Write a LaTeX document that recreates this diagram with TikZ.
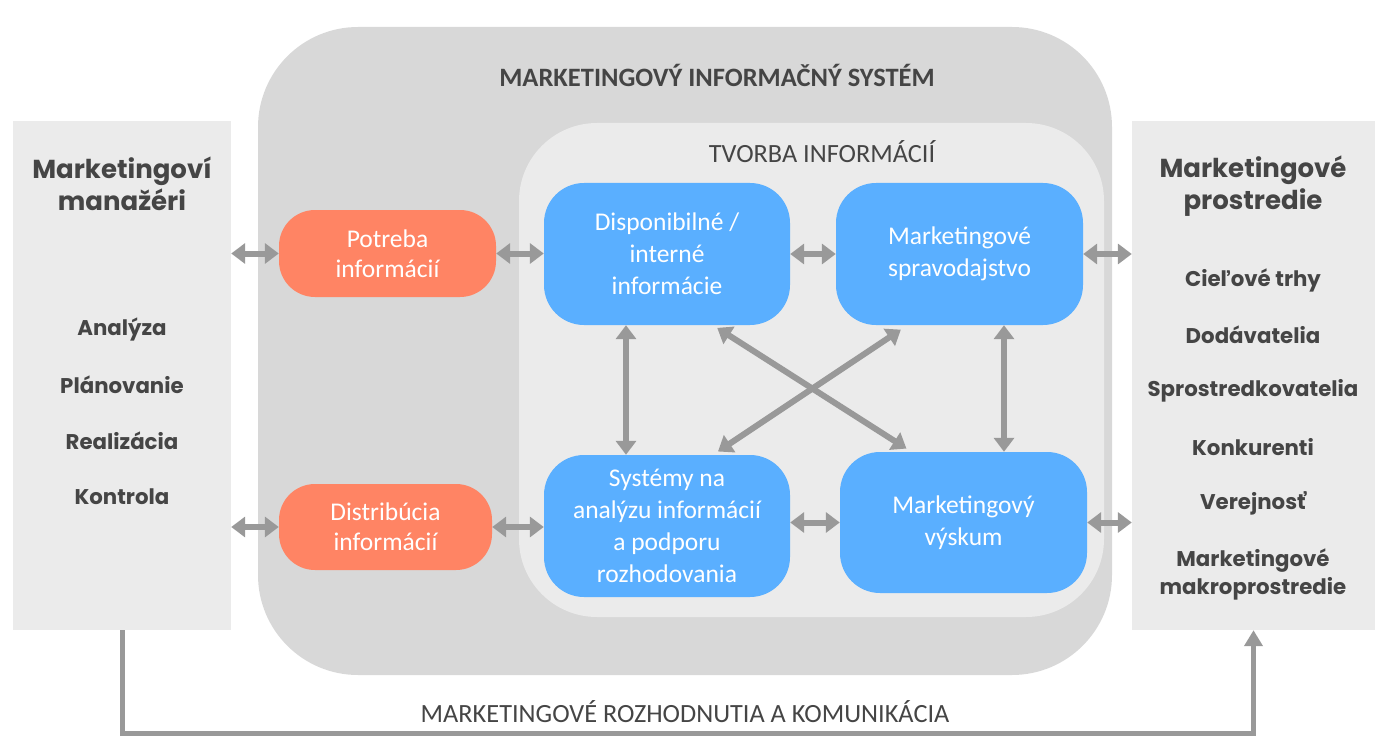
\documentclass[tikz,border=0pt]{standalone}
\usepackage{fontspec}
\setmainfont{Carlito}
\newfontfamily\pop{Poppins}
\usetikzlibrary{arrows.meta,calc}
\definecolor{sidegray}{HTML}{EBEBEB}
\definecolor{misgray}{HTML}{D8D8D8}
\definecolor{innergray}{HTML}{EBEBEB}
\definecolor{orangebox}{HTML}{FF8464}
\definecolor{bluebox}{HTML}{5AAFFF}
\definecolor{arrgray}{HTML}{999999}
\definecolor{txtdark}{HTML}{454545}
\begin{document}
\begin{tikzpicture}[x=1pt,y=-1pt,
  sidebox/.style={fill=sidegray,draw=none,minimum width=#1,minimum height=509pt,inner sep=0pt},
  orbox/.style={fill=orangebox,draw=none,rounded corners=36pt,inner sep=0pt,text=white,align=center,
     font=\fontsize{25.5}{30}\selectfont},
  blbox/.style={fill=bluebox,draw=none,rounded corners=40pt,inner sep=0pt,text=white,align=center,
     minimum width=246pt,minimum height=142pt,font=\fontsize{25.5}{32}\selectfont},
  darr/.style={draw=arrgray,line width=6pt,{Triangle[length=14pt,width=20pt]}-{Triangle[length=14pt,width=20pt]}},
  bigtitle/.style={text=txtdark,align=center,font=\pop\bfseries\fontsize{26}{32}\selectfont},
  listitem/.style={text=txtdark,font=\pop\bfseries\fontsize{21.3}{28}\selectfont,align=center},
]
\useasboundingbox (0,0) rectangle (1390,749);
% side boxes
\node[sidebox=218pt] (lbox) at (122,375.5) {};
\node[sidebox=243pt] (rbox) at (1253.5,375.5) {};
% MIS
\node[fill=misgray,draw=none,rounded corners=100pt,minimum width=854pt,minimum height=648pt,inner sep=0pt] (mis) at (685,351) {};
\node[fill=innergray,draw=none,rounded corners=78pt,minimum width=585pt,minimum height=494pt,inner sep=0pt] (inner) at (811.5,370) {};
\node[text=txtdark,font=\bfseries\fontsize{26.5}{30}\selectfont] (mistitle) at (717,75) {MARKETINGOVÝ INFORMAČNÝ SYSTÉM};
\node[text=txtdark,font=\fontsize{26.3}{30}\selectfont] (tvtitle) at (822,152) {TVORBA INFORMÁCIÍ};
% orange
\node[orbox,minimum width=217pt,minimum height=87pt] (potreba) at (387.5,253.5) {Potreba\\informácií};
\node[orbox,minimum width=213pt,minimum height=86pt] (distrib) at (385.5,527) {Distribúcia\\informácií};
% blue
\node[blbox] (disp) at (667,254) {Disponibilné /\\interné\\informácie};
\node[blbox,minimum width=247pt] (sprav) at (959.5,254) {Marketingové\\spravodajstvo};
\node[blbox] (sys) at (667,526) {Systémy na\\analýzu informácií\\a podporu\\rozhodovania};
\node[blbox,minimum width=247pt,minimum height=141pt] (vys) at (963.5,522.5) {Marketingový\\výskum};
% side texts
\node[bigtitle] (lt) at (122,184) {Marketingoví\\manažéri};
\node[bigtitle] (rt) at (1253,186) {Marketingové\\prostredie};
\node[listitem] (l1) at (122,329) {Analýza};
\node[listitem] (l2) at (122,385) {Plánovanie};
\node[listitem] (l3) at (122,441) {Realizácia};
\node[listitem] (l4) at (122,497) {Kontrola};
\node[listitem] (r1) at (1253,280) {Cieľové trhy};
\node[listitem] (r2) at (1253,335) {Dodávatelia};
\node[listitem] (r3) at (1253,391) {Sprostredkovatelia};
\node[listitem] (r4) at (1253,447) {Konkurenti};
\node[listitem] (r5) at (1253,503) {Verejnosť};
\node[listitem] (r6) at (1253,574) {Marketingové\\makroprostredie};
% arrows
\draw[darr] (lbox.east |- potreba) -- (potreba.west);
\draw[darr] (potreba.east) -- (disp.west |- potreba);
\draw[darr] (disp.east) -- (sprav.west);
\draw[darr] (sprav.east) -- (rbox.west |- sprav);
\draw[darr] (lbox.east |- distrib) -- (distrib.west);
\draw[darr] (distrib.east) -- (sys.west |- distrib);
\draw[darr] (sys.east |- vys) -- (vys.west);
\draw[darr] (vys.east) -- (rbox.west |- vys);
\draw[darr] ([xshift=-41pt]disp.south) -- ([xshift=-41pt]sys.north);
\draw[darr] ([xshift=44.5pt]sprav.south) -- ([xshift=40.5pt]vys.north);
\draw[darr,shorten <=5pt,shorten >=6pt] ([xshift=46pt]disp.south) -- ([xshift=-52pt]vys.north);
\draw[darr,shorten <=8pt,shorten >=6pt] ([xshift=-52pt]sprav.south) -- ([xshift=46pt]sys.north);
% bottom connector
\coordinate (bot) at (0,733);
\draw[draw=arrgray,line width=5pt,-{Triangle[length=16pt,width=18pt]}] (lbox.south) |- (bot -| rbox.south) -- (rbox.south);
\node[text=txtdark,font=\fontsize{26.3}{30}\selectfont] (botlabel) at (685,712) {MARKETINGOVÉ ROZHODNUTIA A KOMUNIKÁCIA};
\end{tikzpicture}
\end{document}
